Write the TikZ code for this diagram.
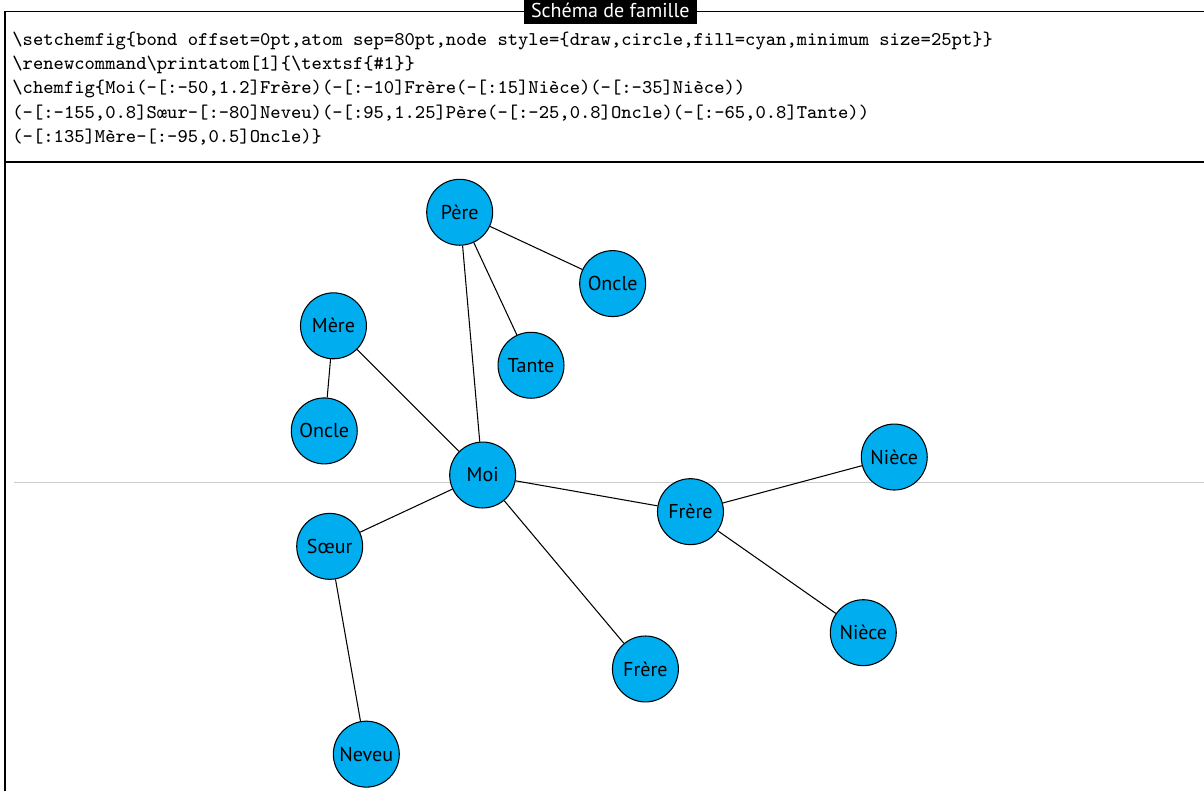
\documentclass[tikz,border=0pt]{standalone}
\usepackage{fontspec}
\setsansfont{PT Sans}
\usetikzlibrary{positioning}
\definecolor{famcyan}{HTML}{00ADEF}
\definecolor{rulegray}{HTML}{CCCCCC}

\tikzset{
  membre/.style={draw, circle, fill=famcyan, minimum size=25pt, inner sep=0pt,
    line width=0.4pt, font=\fontsize{7.6}{9}\sffamily},
  lien/.style={line width=0.4pt},
  codeline/.style={anchor=base west, inner sep=0pt, font=\fontsize{7.37}{9.26}\ttfamily},
  cadre/.style={line width=0.6pt}
}

\begin{document}
\begin{tikzpicture}
\useasboundingbox (0,0) rectangle (456.5pt,-299.9pt);
% cadre et titre
\draw[cadre] (1.9pt,-299.9pt) -- (1.9pt,-4.4pt) -- (456.5pt,-4.4pt);
\draw[cadre] (1.9pt,-61.4pt) -- (456.5pt,-61.4pt);
\node[fill=black, text=white, inner xsep=2.8pt, inner ysep=1pt,
  text height=5.5pt, text depth=1.6pt, font=\fontsize{7.6}{9}\sffamily] (titre)
  at (231.4pt,-4.55pt) {Schéma de famille};
% code
\node[codeline] (code1) at (4.5pt,-17.1pt) {\textbackslash setchemfig\{bond offset=0pt,atom sep=80pt,node style=\{draw,circle,fill=cyan,minimum size=25pt\}\}};
\node[codeline] (code2) at (4.5pt,-26.36pt) {\textbackslash renewcommand\textbackslash printatom[1]\{\textbackslash textsf\{\#1\}\}};
\node[codeline] (code3) at (4.5pt,-35.62pt) {\textbackslash chemfig\{Moi(-[:-50,1.2]Frère)(-[:-10]Frère(-[:15]Nièce)(-[:-35]Nièce))};
\node[codeline] (code4) at (4.5pt,-44.88pt) {(-[:-155,0.8]Sœur-[:-80]Neveu)(-[:95,1.25]Père(-[:-25,0.8]Oncle)(-[:-65,0.8]Tante))};
\node[codeline] (code5) at (4.5pt,-54.14pt) {(-[:135]Mère-[:-95,0.5]Oncle)\}};
% ligne de base
\draw[rulegray, line width=0.5pt] (5.3pt,-182.9pt) -- (456.5pt,-182.9pt);
% famille
\node[membre] (moi) at (183pt,-180.1pt) {Moi};
\node[membre] (frereA) at ([shift={(-50:96pt)}]moi) {Frère};
\node[membre] (frereB) at ([shift={(-10:80pt)}]moi) {Frère};
\node[membre] (nieceA) at ([shift={(15:80pt)}]frereB) {Nièce};
\node[membre] (nieceB) at ([shift={(-35:80pt)}]frereB) {Nièce};
\node[membre] (soeur) at ([shift={(-155:64pt)}]moi) {Sœur};
\node[membre] (neveu) at ([shift={(-80:80pt)}]soeur) {Neveu};
\node[membre] (pere) at ([shift={(95:100pt)}]moi) {Père};
\node[membre] (onclePat) at ([shift={(-25:64pt)}]pere) {Oncle};
\node[membre] (tante) at ([shift={(-65:64pt)}]pere) {Tante};
\node[membre] (mere) at ([shift={(135:80pt)}]moi) {Mère};
\node[membre] (oncleMat) at ([shift={(-95:40pt)}]mere) {Oncle};
% liens
\draw[lien] (moi) -- (frereA);
\draw[lien] (moi) -- (frereB);
\draw[lien] (frereB) -- (nieceA);
\draw[lien] (frereB) -- (nieceB);
\draw[lien] (moi) -- (soeur);
\draw[lien] (soeur) -- (neveu);
\draw[lien] (moi) -- (pere);
\draw[lien] (pere) -- (onclePat);
\draw[lien] (pere) -- (tante);
\draw[lien] (moi) -- (mere);
\draw[lien] (mere) -- (oncleMat);
\end{tikzpicture}
\end{document}
